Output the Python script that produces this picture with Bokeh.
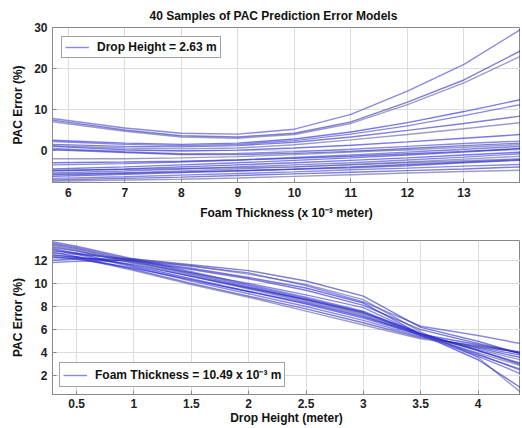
from bokeh.plotting import figure
from bokeh.layouts import column
from bokeh.models import Legend, LegendItem, Range1d, FixedTicker
from bokeh.embed import file_html
from bokeh.resources import INLINE

# ---------- top panel data: PAC error vs foam thickness ----------
thick_x = [5.72, 7, 8, 9, 10, 11, 12, 13, 14]
thick_curves = [
    [7.8, 5.5, 4.2, 4.0, 5.2, 8.8, 14.5, 21.0, 29.5],
    [7.4, 5.0, 3.6, 3.3, 4.2, 7.0, 11.8, 17.2, 24.3],
    [7.0, 4.7, 3.3, 3.0, 3.9, 6.6, 11.2, 16.5, 23.0],
    [2.5, 1.8, 1.5, 1.8, 2.8, 4.5, 6.8, 9.5, 12.4],
    [2.2, 1.5, 1.2, 1.5, 2.4, 4.0, 6.0, 8.5, 11.2],
    [1.5, 1.0, 0.9, 1.2, 2.0, 3.3, 4.9, 6.6, 8.4],
    [1.2, 0.6, 0.4, 0.6, 1.4, 2.6, 3.9, 5.3, 6.8],
    [1.0, 0.2, -0.1, 0.1, 0.6, 1.3, 2.1, 3.0, 3.9],
    [0.5, -0.3, -0.8, -0.7, -0.3, 0.3, 1.0, 1.7, 2.3],
    [0.2, -0.5, -1.0, -1.0, -0.7, -0.2, 0.5, 1.2, 1.8],
    [-2.0, -2.0, -1.8, -1.5, -1.0, -0.4, 0.2, 0.8, 1.4],
    [-3.0, -2.8, -2.6, -2.3, -1.9, -1.4, -0.8, -0.2, 0.5],
    [-3.5, -3.2, -2.8, -2.3, -1.7, -1.1, -0.4, 0.3, 1.0],
    [-4.5, -4.0, -3.5, -3.0, -2.4, -1.8, -1.1, -0.4, 0.4],
    [-4.8, -4.6, -4.4, -4.2, -4.0, -3.5, -3.0, -2.5, -2.0],
    [-5.0, -4.5, -4.0, -3.5, -3.0, -2.4, -1.8, -1.1, -0.4],
    [-5.5, -5.0, -4.5, -4.0, -3.5, -3.0, -2.3, -1.6, -0.8],
    [-5.8, -5.5, -5.2, -4.9, -4.6, -4.2, -3.7, -3.0, -2.4],
    [-6.0, -5.5, -5.0, -4.5, -4.0, -3.4, -2.8, -2.1, -1.4],
    [-6.3, -5.8, -5.4, -5.0, -4.5, -4.0, -3.4, -2.8, -2.2],
    [-6.8, -6.4, -6.0, -5.6, -5.2, -4.7, -4.3, -3.8, -3.4],
    [-7.2, -6.8, -6.5, -6.1, -5.7, -5.3, -4.9, -4.5, -4.0],
    [-7.5, -7.2, -7.0, -6.7, -6.3, -5.9, -5.5, -5.1, -4.8],
]
thick_xticks = [6, 7, 8, 9, 10, 11, 12, 13]
thick_yticks = [0, 10, 20, 30]

# ---------- bottom panel data: PAC error vs drop height ----------
drop_x = [0.29, 0.5, 1, 1.5, 2, 2.5, 3, 3.5, 4, 4.37]
drop_curves = [
    [11.8, 11.9, 12.0, 11.5, 10.9, 9.8, 8.4, 6.3, 5.5, 4.8],
    [12.0, 12.1, 12.1, 11.6, 11.1, 10.2, 8.9, 6.2, 5.0, 3.9],
    [12.6, 12.5, 12.1, 11.5, 10.8, 9.9, 8.6, 5.8, 3.6, 0.6],
    [12.8, 12.6, 12.0, 11.3, 10.5, 9.6, 8.3, 5.6, 3.4, 1.0],
    [13.6, 13.2, 12.1, 11.0, 9.9, 8.8, 7.6, 5.6, 3.9, 2.5],
    [13.4, 13.0, 11.9, 10.8, 9.7, 8.6, 7.4, 5.6, 4.2, 3.1],
    [13.2, 12.8, 11.7, 10.6, 9.5, 8.4, 7.2, 5.5, 4.3, 3.4],
    [13.0, 12.6, 11.5, 10.4, 9.3, 8.2, 7.0, 5.5, 4.4, 3.6],
    [12.9, 12.5, 11.4, 10.2, 9.1, 8.0, 6.8, 5.4, 4.5, 3.8],
    [12.7, 12.3, 11.2, 10.0, 8.9, 7.8, 6.6, 5.3, 4.6, 4.0],
    [12.5, 12.2, 11.1, 9.9, 8.8, 7.6, 6.4, 5.2, 4.5, 4.1],
    [12.3, 12.1, 11.3, 10.3, 9.3, 8.3, 7.1, 5.6, 4.7, 4.0],
    [13.1, 12.8, 11.8, 10.9, 10.0, 9.0, 7.9, 5.6, 3.8, 2.6],
    [12.2, 12.2, 11.9, 11.2, 10.4, 9.4, 8.1, 6.0, 4.8, 4.0],
    [13.3, 12.9, 11.8, 10.7, 9.6, 8.5, 7.3, 5.5, 4.0, 2.9],
    [12.4, 12.3, 11.6, 10.6, 9.6, 8.6, 7.5, 5.7, 4.2, 3.0],
    [13.5, 13.1, 12.0, 10.9, 9.8, 8.7, 7.5, 5.5, 3.7, 2.2],
]
drop_xticks = [0.5, 1, 1.5, 2, 2.5, 3, 3.5, 4]
drop_yticks = [2, 4, 6, 8, 10, 12]

FONT = "Liberation Sans"
LINE_COLORS = ["#3b3bd6", "#2a2ab8", "#5a5aa0", "#1e1ee0"]


def style(p, xticks, yticks, x_std, x_lab_std):
    for ax in (p.xaxis[0], p.yaxis[0]):
        ax.major_label_text_font = FONT
        ax.major_label_text_font_style = "bold"
        ax.major_label_text_font_size = "12px"
        ax.major_label_text_color = "#222222"
        ax.axis_label_text_font = FONT
        ax.axis_label_text_font_style = "bold"
        ax.axis_label_text_font_size = "12px"
        ax.axis_label_text_color = "#111111"
        ax.axis_line_color = "#888888"
        ax.major_tick_line_color = "#888888"
        ax.major_tick_in = 4
        ax.major_tick_out = 0
        ax.minor_tick_line_color = None
        ax.major_label_standoff = 5
        ax.axis_label_standoff = 6
    p.xaxis[0].major_label_standoff = x_std
    p.xaxis[0].axis_label_standoff = x_lab_std
    p.xaxis[0].ticker = FixedTicker(ticks=xticks)
    p.yaxis[0].ticker = FixedTicker(ticks=yticks)
    p.xgrid.ticker = FixedTicker(ticks=xticks)
    p.ygrid.ticker = FixedTicker(ticks=yticks)
    p.grid.grid_line_color = "#dcdcdc"
    p.grid.grid_line_width = 1
    p.outline_line_color = "#888888"
    p.outline_line_width = 1
    p.background_fill_color = "white"
    p.border_fill_color = "white"


def style_legend(leg):
    leg.padding = 3
    leg.spacing = 0
    leg.glyph_width = 24
    leg.glyph_height = 12
    leg.label_height = 12
    leg.label_standoff = 8
    leg.label_text_font = FONT
    leg.label_text_font_style = "bold"
    leg.label_text_font_size = "12px"
    leg.label_text_color = "#111111"
    leg.border_line_color = "#444444"
    leg.background_fill_alpha = 1.0


# ---------- top figure ----------
p1 = figure(width=520, height=225, output_backend="svg", toolbar_location=None,
            x_range=Range1d(5.72, 14.0), y_range=Range1d(-7.8, 30.0),
            min_border_left=52, min_border_right=0, min_border_top=27,
            min_border_bottom=43)
p1.title.text = "40 Samples of PAC Prediction Error Models"
p1.title.align = "left"
p1.title.text_font = FONT
p1.title.text_font_style = "bold"
p1.title.text_font_size = "12px"
p1.title.text_color = "#111111"
p1.title.offset = 97
p1.xaxis.axis_label = "Foam Thickness (x 10\u207b\u00b3 meter)"
p1.yaxis.axis_label = "PAC Error (%)"
style(p1, thick_xticks, thick_yticks, 5, 6)

r_top = []
for i, ys in enumerate(thick_curves):
    r = p1.line(thick_x, ys, line_color=LINE_COLORS[i % 4], line_alpha=0.6,
                line_width=1.4)
    r_top.append(r)

leg1 = Legend(items=[LegendItem(label="Drop Height = 2.63 m", renderers=[r_top[0]])],
              location="top_left")
leg1.margin = 9
style_legend(leg1)
p1.add_layout(leg1)

# ---------- bottom figure ----------
p2 = figure(width=520, height=202, output_backend="svg", toolbar_location=None,
            x_range=Range1d(0.29, 4.37), y_range=Range1d(0.4, 13.7),
            min_border_left=52, min_border_right=0, min_border_top=15,
            min_border_bottom=32)
p2.xaxis.axis_label = "Drop Height (meter)"
p2.yaxis.axis_label = "PAC Error (%)"
style(p2, drop_xticks, drop_yticks, 4, 0)

r_bot = []
for i, ys in enumerate(drop_curves):
    r = p2.line(drop_x, ys, line_color=LINE_COLORS[i % 4], line_alpha=0.6,
                line_width=1.4)
    r_bot.append(r)

leg2 = Legend(items=[LegendItem(label="Foam Thickness = 10.49 x 10\u207b\u00b3 m",
                                renderers=[r_bot[0]])],
              location="bottom_left")
leg2.margin = 7
style_legend(leg2)
p2.add_layout(leg2)

layout = column(p1, p2, spacing=0)
open("out.html", "w").write(file_html(layout, INLINE))
